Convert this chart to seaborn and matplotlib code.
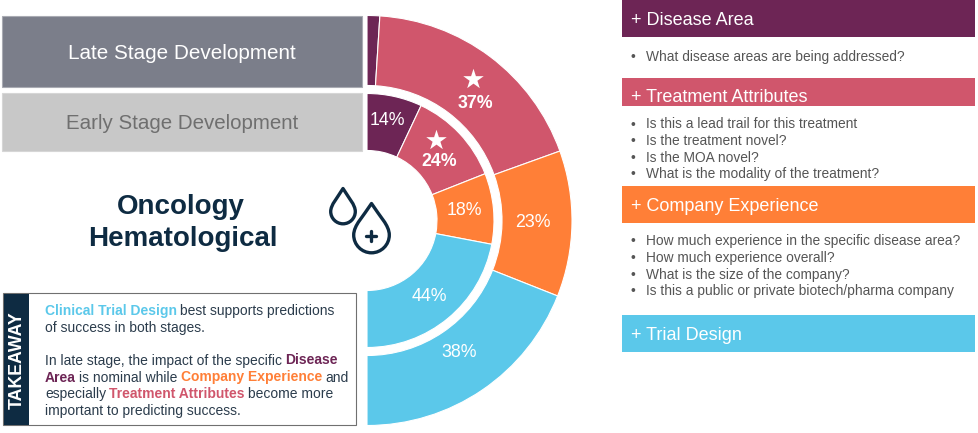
"""Half-donut of predictive factors for oncology hematological trials."""

import matplotlib
matplotlib.use("Agg")
import matplotlib.pyplot as plt
from matplotlib.patches import PathPatch, Rectangle
from matplotlib.path import Path
import seaborn as sns

W, H = 979, 433

factors = ["Disease Area", "Treatment Attributes", "Company Experience", "Trial Design"]
late_stage = [2, 37, 23, 38]
early_stage = [14, 24, 18, 44]

questions = {
    "Disease Area": ["What disease areas are being addressed?"],
    "Treatment Attributes": ["Is this a lead trail for this treatment", "Is the treatment novel?",
                             "Is the MOA novel?", "What is the modality of the treatment?"],
    "Company Experience": ["How much experience in the specific disease area?",
                           "How much experience overall?", "What is the size of the company?",
                           "Is this a public or private biotech/pharma company"],
    "Trial Design": [],
}

NAVY = "#0e2b42"
palette = sns.color_palette(["#6d2555", "#d0566c", "#ff7f37", "#5bc8ea"])
color_of = dict(zip(factors, palette))

sns.set_theme(style="white")
plt.rcParams["font.family"] = ["Liberation Sans", "DejaVu Sans"]

fig = plt.figure(figsize=(W / 100, H / 100), dpi=100)
ax = fig.add_axes([0, 0, 1, 1])
ax.set_xlim(0, W)
ax.set_ylim(0, H)


def Y(py):
    # picture rows run downwards, the axes upwards
    return H - py


def box(x0, y0, x1, y1, **kw):
    ax.add_patch(Rectangle((x0, Y(y1)), x1 - x0, y1 - y0, **kw))


def label(x, y, s, **kw):
    # matplotlib centres on the box with descenders, so nudge down a little
    return ax.text(x, Y(y + 1.5), s, va="center", **kw)


def rich_line(x, y, parts, size=10):
    """Write (text, colour, bold) runs one after the other from x."""
    r = fig.canvas.get_renderer()
    for s, c, bold in parts:
        t = label(x, y, s, color=c, fontsize=size, fontweight="bold" if bold else "normal")
        x = t.get_window_extent(r).x1 + 3.2


def drop(cx, cy, r, tip_y, lw=2.4):
    ty = Y(tip_y)
    c = Y(cy)
    k = r * 0.55
    verts = [(cx, ty),
             (cx + r * 0.45, ty - (ty - c) * 0.4), (cx + r, c + k), (cx + r, c),
             (cx + r, c - k), (cx + k, c - r), (cx, c - r),
             (cx - k, c - r), (cx - r, c - k), (cx - r, c),
             (cx - r, c + k), (cx - r * 0.45, ty - (ty - c) * 0.4), (cx, ty),
             (cx, ty)]
    codes = [Path.MOVETO] + [Path.CURVE4] * 12 + [Path.CLOSEPOLY]
    ax.add_patch(PathPatch(Path(verts, codes), fill=False, ec=NAVY, lw=lw, joinstyle="round"))


# stage boxes
box(2, 16, 362, 87, fc="#7b7e8a", ec="#a9abb3", lw=0.8)
box(2, 93, 362, 151, fc="#c8c8c8", ec="#d6d6d6", lw=0.8)
label(181.5, 52, "Late Stage Development", color="white", fontsize=14.9, ha="center")
label(182, 122, "Early Stage Development", color="#6f6f6f", fontsize=14.8, ha="center")

# half donuts, the rest of each circle stays empty
cx, cy = 367, Y(220.5)
for vals, radius, hole in [(late_stage, 205, 135), (early_stage, 127, 70)]:
    wedges, _ = ax.pie(vals + [sum(vals)], colors=list(palette) + ["none"], startangle=90,
                       counterclock=False, radius=radius, center=(cx, cy), frame=True,
                       wedgeprops=dict(width=radius - hole, edgecolor="white", linewidth=0.8))
    wedges[-1].set_visible(False)

label_pos_late = [None, (475, 102), (533, 221), (459, 351)]
label_pos_early = [(387, 119), (439, 160), (464, 209), (429, 295)]
for vals, where in [(late_stage, label_pos_late), (early_stage, label_pos_early)]:
    for i, (v, pos) in enumerate(zip(vals, where)):
        if pos is None:
            continue
        label(pos[0], pos[1], f"{v}%", color="white", fontsize=12.8, ha="center",
              fontweight="bold" if factors[i] == "Treatment Attributes" else "normal")
ax.scatter([473, 436], [Y(79), Y(140)], marker="*", s=240, color="white", linewidths=0, zorder=5)

# title and icon
label(181, 205, "Oncology", color=NAVY, fontsize=20, fontweight="bold", ha="center")
label(183, 238, "Hematological", color=NAVY, fontsize=20, fontweight="bold", ha="center")
drop(343, 211.5, 12.3, 188.5)
drop(371.5, 235, 17.8, 203.5)
ax.plot([371, 371], [Y(231), Y(241)], color=NAVY, lw=2.4, solid_capstyle="round")
ax.plot([366, 376], [Y(236), Y(236)], color=NAVY, lw=2.4, solid_capstyle="round")

# takeaway box
box(3.5, 293, 356, 425, fc="white", ec="#707070", lw=0.8)
box(4, 294, 29, 425, fc=NAVY, ec="none")
ax.text(17.5, Y(360), "TAKEAWAY", color="white", fontsize=12.8, fontweight="bold", rotation=90,
        ha="center", va="center")
T = "#2b3c4c"
rich_line(45, 310, [("Clinical Trial Design", color_of["Trial Design"], True),
                    ("best supports predictions", T, False)])
rich_line(45, 326.5, [("of success in both stages.", T, False)])
rich_line(45, 359, [("In late stage, the impact of the specific", T, False),
                    ("Disease", color_of["Disease Area"], True)])
rich_line(45, 376, [("Area", color_of["Disease Area"], True), ("is nominal while", T, False),
                    ("Company Experience", color_of["Company Experience"], True), ("and", T, False)])
rich_line(45, 392.5, [("especially", T, False), ("Treatment Attributes", color_of["Treatment Attributes"], True),
                      ("become more", T, False)])
rich_line(45, 409, [("important to predicting success.", T, False)])

# factor panels on the right
panels = [("Disease Area", 0, 37, 19, 56),
          ("Treatment Attributes", 78, 106, 96.5, 123),
          ("Company Experience", 186, 223, 205, 240),
          ("Trial Design", 315, 352, 334, 0)]
for name, y0, y1, ty, qy in panels:
    box(622, y0, 975, y1, fc=color_of[name], ec="none")
    label(631, ty, f"+ {name}", color="white", fontsize=13)
    for j, q in enumerate(questions[name]):
        yy = qy + j * 16.6
        label(631, yy, "•", color="#555555", fontsize=9.95)
        label(646, yy, q, color="#555555", fontsize=9.95)

ax.set_xlim(0, W)
ax.set_ylim(0, H)
ax.set_aspect("auto")
ax.axis("off")
fig.savefig("out.png", dpi=100)
plt.close(fig)
